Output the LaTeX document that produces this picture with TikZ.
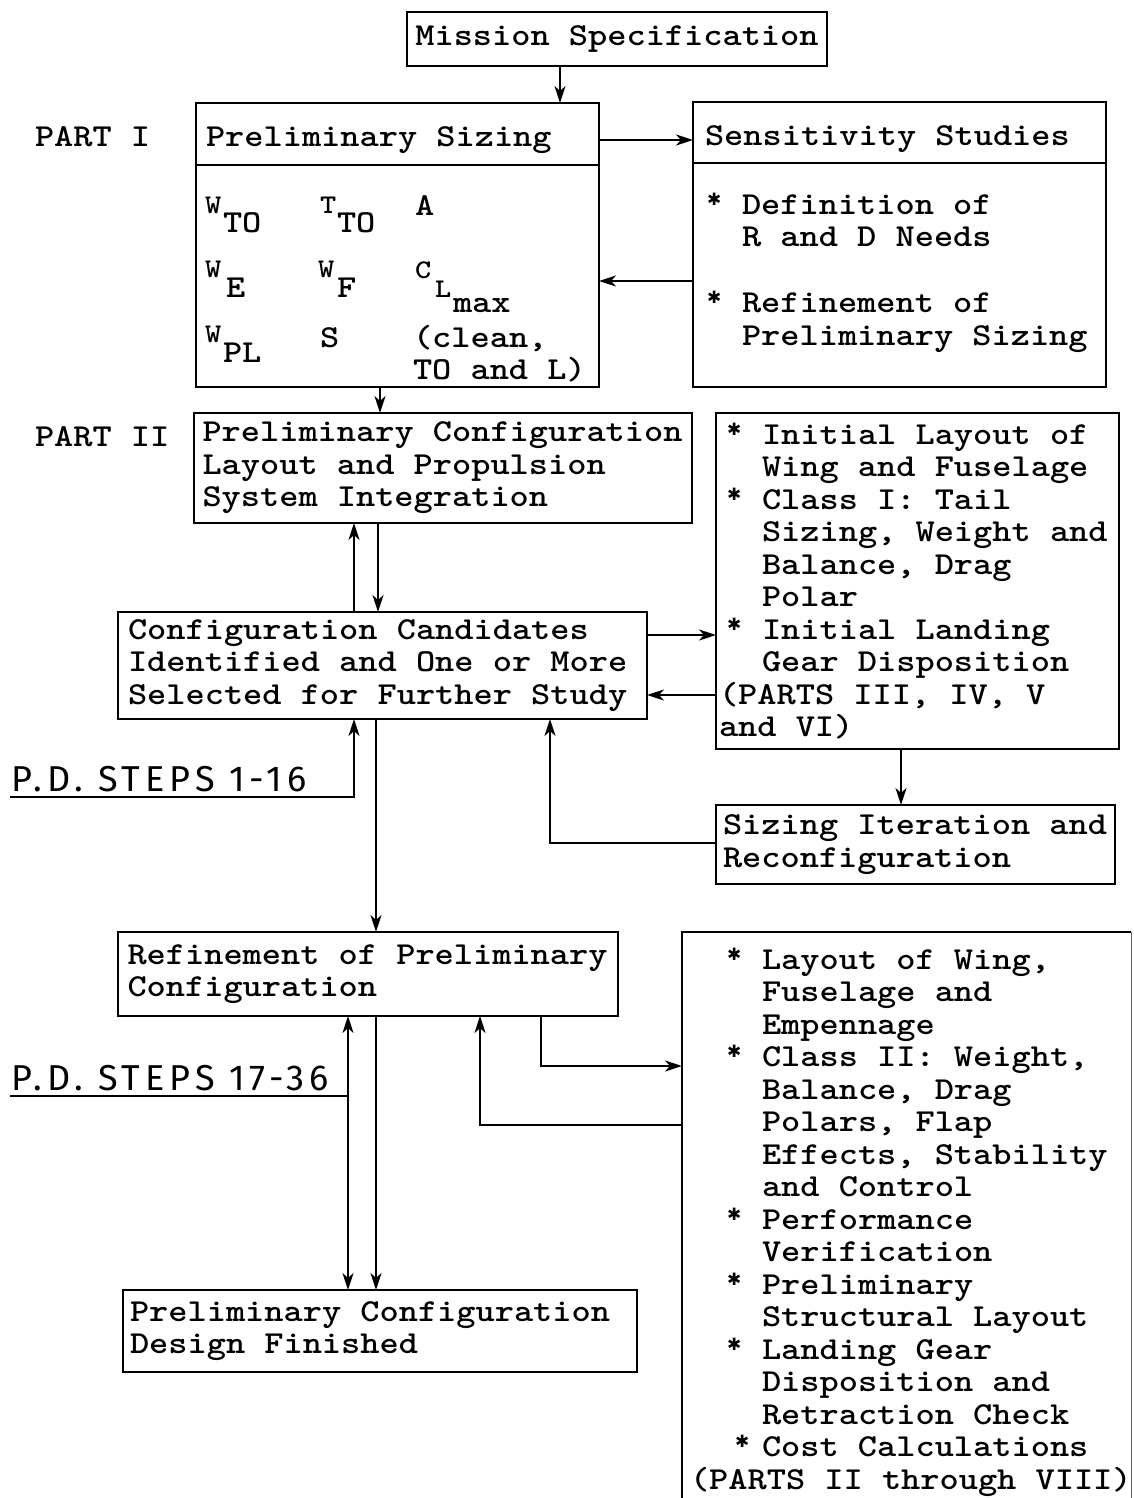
\documentclass[tikz,border=0pt]{standalone}
\usepackage{fontspec}
\newfontfamily\tmono{lmmonolt10-bold}[Extension=.otf, FakeStretch=1.143]
\newfontfamily\hwfont{Fira Sans}
\newfontfamily\dvsans{DejaVu Sans}
\usetikzlibrary{arrows.meta,calc}
\newcommand\firststrut{\rule{0pt}{25pt}}
\newcommand\blob{{\dvsans\fontsize{17}{17}\selectfont\raisebox{9pt}{✱}}}
\newcommand\bulA{\makebox[43pt][l]{\hspace{8pt}\blob}}
\newcommand\indA{\hspace*{43pt}}
\newcommand\bulB{\makebox[72pt][l]{\hspace{37pt}\blob}}
\newcommand\bulC{\makebox[72pt][l]{\hspace{45pt}\blob}}
\newcommand\indB{\hspace*{72pt}}
\newcommand\bulS{\makebox[37pt][l]{\hspace{2pt}\blob}}
\newcommand\indS{\hspace*{37pt}}
\newcommand\fixspace{\fontdimen2\font=19.2pt\fontdimen3\font=0pt\fontdimen4\font=0pt\relax}
\begin{document}
\begin{tikzpicture}[x=1pt,y=-1pt,
  every node/.style={inner sep=0pt, outer sep=0pt},
  tt/.style={font=\tmono\fontsize{32}{32.5}\selectfont\fixspace},
  ttsmall/.style={font=\tmono\fontsize{27}{30}\selectfont},
  hw/.style={font=\hwfont\fontsize{36}{36}\selectfont\addfontfeature{LetterSpace=14}},
  box/.style={tt, draw, line width=2.4pt, anchor=north west, align=flush left, inner ysep=0pt},
  frame/.style={draw, line width=2.4pt, anchor=north west},
  ln/.style={line width=2pt},
  tip/.tip={Stealth[length=17pt,width=11pt,inset=5pt]},
  arr/.style={line width=2.2pt, -tip},
  arrb/.style={line width=2.2pt, tip-tip},
]
\path[use as bounding box, fill=white] (0,0) rectangle (1133,1498);

% helper coordinates
\coordinate (x560) at (560,0);
\coordinate (x380) at (380,0);
\coordinate (x354) at (354,0);
\coordinate (x378) at (378,0);
\coordinate (x376) at (376,0);
\coordinate (x901) at (901,0);
\coordinate (x550) at (550,0);
\coordinate (x541) at (541,0);
\coordinate (x480) at (480,0);
\coordinate (x348) at (348,0);
\coordinate (y140) at (0,140);
\coordinate (y281) at (0,281);
\coordinate (y635) at (0,635);
\coordinate (y695) at (0,695);
\coordinate (y843) at (0,843);
\coordinate (y1066) at (0,1066);
\coordinate (y1125) at (0,1125);

% Mission specification
\node[box, align=flush center, inner xsep=4pt, text width=412pt, minimum height=54pt] (ms) at (407,12) {Mission Specification};

% PART I
\node[tt, anchor=base west] (p1) at (35,147) {PART I};
\node[frame, minimum width=403pt, minimum height=284pt] (ps) at (196,103) {};
\node[tt, anchor=base west] (pst) at (206,147) {Preliminary Sizing};
\draw[line width=2.4pt] ($(ps.north west)+(0,62)$) -- ($(ps.north east)+(0,62)$);

\node[ttsmall, anchor=base west] (w1) at (205,213) {W};
\node[tt, anchor=base west] (w1s) at (223,232) {TO};
\node[ttsmall, anchor=base west] (t1) at (320,213) {T};
\node[tt, anchor=base west] (t1s) at (337,232) {TO};
\node[tt, anchor=base west] (a1) at (415,215) {A};
\node[ttsmall, anchor=base west] (w2) at (205,277) {W};
\node[tt, anchor=base west] (w2s) at (226,297) {E};
\node[ttsmall, anchor=base west] (w3) at (318,277) {W};
\node[tt, anchor=base west] (w3s) at (337,297) {F};
\node[ttsmall, anchor=base west] (c1) at (415,278) {C};
\node[ttsmall, anchor=base west] (c1s) at (435,297) {L};
\node[tt, anchor=base west] (c1ss) at (453,312) {max};
\node[ttsmall, anchor=base west] (w4) at (205,342) {W};
\node[tt, anchor=base west] (w4s) at (223,362) {PL};
\node[tt, anchor=base west] (s1) at (320,347) {S};
\node[tt, anchor=north west, align=flush left] (cl) at (413,322) {\firststrut(clean,\\TO and L)};

% Sensitivity studies
\node[frame, minimum width=413pt, minimum height=285pt] (ss) at (693,102) {};
\node[tt, anchor=base west] (sst) at (705,146) {Sensitivity Studies};
\draw[line width=2.4pt] ($(ss.north west)+(0,61)$) -- ($(ss.north east)+(0,61)$);
\node[tt, anchor=north west, align=flush left] (ssb) at (705,189)
  {\firststrut\bulS Definition of\\ \indS R and D Needs\\[33.5pt] \bulS Refinement of\\ \indS Preliminary Sizing};

% PART II
\node[tt, anchor=base west] (p2) at (35,446) {PART II};
\node[box, inner xsep=8.5pt, text width=481pt, minimum height=110pt] (pcl) at (194,413)
  {Preliminary Configuration\\Layout and Propulsion\\System Integration};

\node[box, inner xsep=3pt, text width=397pt, minimum height=336pt] (il) at (716,413)
  {\bulA Initial Layout of\\ \indA Wing and Fuselage\\ \bulA Class I: Tail\\ \indA Sizing, Weight and\\ \indA Balance, Drag\\ \indA Polar\\ \bulA Initial Landing\\ \indA Gear Disposition\\(PARTS III, IV, V\\and VI)};

\node[box, inner xsep=10pt, text width=509pt, minimum height=107pt] (cc) at (118,612)
  {Configuration Candidates\\Identified and One or More\\Selected for Further Study};

\node[box, inner xsep=7pt, text width=385pt, minimum height=79pt] (si) at (716,805)
  {Sizing Iteration and\\Reconfiguration};

\node[box, inner xsep=9.5pt, text width=481pt, minimum height=84pt] (ref) at (118,932)
  {Refinement of Preliminary\\Configuration};

\node[box, inner xsep=7pt, text width=500pt, minimum height=82pt] (fin) at (123,1290)
  {Preliminary Configuration\\Design Finished};

% big box (open at bottom)
\node[anchor=north west, minimum width=449pt, minimum height=566pt] (big) at (682,932) {};
\draw[line width=2.4pt] (big.south west) -- (big.north west) -- (big.north east);
\draw[line width=1pt, black!60] (big.north east) -- (big.south east);
\node[tt, anchor=north west, align=flush left] (bigt) at (690,944)
  {\firststrut\bulB Layout of Wing,\\ \indB Fuselage and\\ \indB Empennage\\ \bulB Class II: Weight,\\ \indB Balance, Drag\\ \indB Polars, Flap\\ \indB Effects, Stability\\ \indB and Control\\ \bulB Performance\\ \indB Verification\\ \bulB Preliminary\\ \indB Structural Layout\\ \bulB Landing Gear\\ \indB Disposition and\\ \indB Retraction Check\\ \bulC Cost Calculations\\(PARTS II through VIII)};

% handwritten labels
\node[hw, anchor=base west] (pd1) at (12,791) {P.D. STEPS 1-16};
\coordinate (u1s) at (10,797);
\coordinate (u1e) at (354,797);
\node[hw, anchor=base west] (pd2) at (12,1090) {P.D. STEPS 17-36};
\coordinate (u2s) at (10,1096);
\coordinate (u2e) at (348,1096);

% connectors
\draw[arr] (ms.south -| x560) -- (ps.north -| x560);
\draw[arr] (ps.east |- y140) -- (ss.west |- y140);
\draw[arr] (ss.west |- y281) -- (ps.east |- y281);
\draw[arr] (ps.south -| x380) -- (pcl.north -| x380);
\draw[arr] (cc.north -| x354) -- (pcl.south -| x354);
\draw[arr] (pcl.south -| x378) -- (cc.north -| x378);
\draw[arr] (cc.east |- y635) -- (il.west |- y635);
\draw[arr] (il.west |- y695) -- (cc.east |- y695);
\draw[arr] (il.south -| x901) -- (si.north -| x901);
\draw[arr] (si.west |- y843) -| (cc.south -| x550);
\draw[arr] (u1s) -- (u1e) -- (cc.south -| u1e);
\draw[arr] (cc.south -| x376) -- (ref.north -| x376);
\draw[arr] (ref.south -| x541) |- (big.west |- y1066);
\draw[arr] (big.west |- y1125) -| (ref.south -| x480);
\draw[ln] (u2s) -- (u2e);
\draw[arrb] (ref.south -| x348) -- (fin.north -| x348);
\draw[arr] (ref.south -| x376) -- (fin.north -| x376);
\end{tikzpicture}
\end{document}
